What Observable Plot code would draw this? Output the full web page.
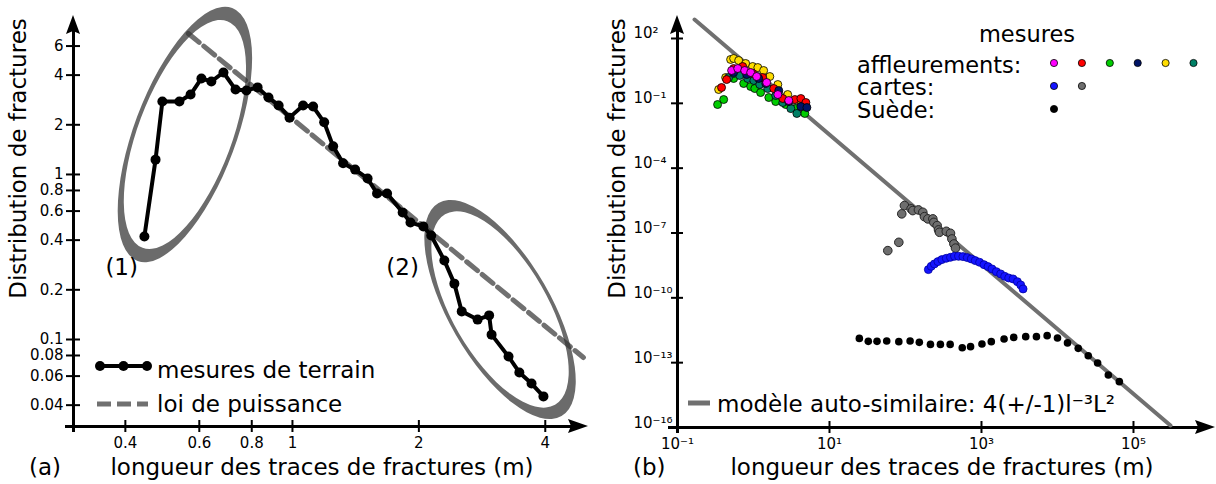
<!DOCTYPE html>
<html><head><meta charset="utf-8">
<script src="https://cdn.jsdelivr.net/npm/d3@7"></script>
<script src="https://cdn.jsdelivr.net/npm/@observablehq/plot@0.6"></script>
<style>
body{margin:0;background:#fff;}
#wrap{display:flex;width:1216px;height:484px;}
#wrap svg{display:block;flex:none;}
</style></head><body><div id="wrap"></div>
<script>
// ---------- Panel (a) data ----------
const terrainL = [0.444,0.472,0.490,0.538,0.572,0.607,0.641,0.685,0.732,0.777,0.826,0.877,0.927,0.984,1.06,1.12,1.19,1.25,1.32,1.41,1.51,1.59,1.68,1.83,1.91,2.05,2.14,2.30,2.43,2.53,2.76,2.94,2.98,3.27,3.47,3.71,3.96];
const terrainN = [0.421,1.23,2.77,2.77,3.05,3.82,3.66,4.15,3.27,3.23,3.37,2.93,2.62,2.21,2.62,2.58,2.07,1.48,1.17,1.07,0.946,0.767,0.767,0.588,0.512,0.484,0.427,0.301,0.218,0.148,0.132,0.140,0.107,0.0788,0.0631,0.0541,0.0452];
const powerLawL = [0.565, 4.93];
const powerLawN = [7.15, 0.0778];
const zonesL = [0.556, 3.13];          // centres of the two highlighted zones
const zonesN = [1.735, 0.151];
const zoneLabels = ["(1)", "(2)"];
const zoneLabelL = [0.392, 1.83];
const zoneLabelN = [0.273, 0.273];
const ticksAx = [0.4, 0.6, 0.8, 1, 2, 4];
const ticksAy = [0.04, 0.06, 0.08, 0.1, 0.2, 0.4, 0.6, 0.8, 1, 2, 4, 6];
const domainAx = [0.301, 5.07];
const domainAy = [0.0297, 9.19];

// ---------- Panel (b) data ----------
const aff1L = [0.515,0.620,0.766,0.918,1.10,1.49,2.09,2.91];
const aff1N = [3.3,4.08,3.3,2.67,1.74,0.918,0.255,0.135];
const aff2L = [0.380,0.443,0.548,0.721,0.975,1.32,1.85,2.43,3.50,4.20,4.89];
const aff2N = [0.539,1.26,4.08,5.06,2.40,1.56,0.484,0.167,0.150,0.167,0.109];
const aff3L = [0.337,0.405,0.548,0.743,0.918,1.04,1.24,1.59,1.96,2.66,3.61,4.73];
const aff3N = [0.088,0.150,1.41,0.826,0.600,0.484,0.316,0.186,0.121,0.088,0.057,0.034];
const aff4L = [0.548,0.813,1.17,1.45,2.15,2.91,4.20,5.04];
const aff4N = [2.67,2.15,1.41,0.826,0.39,0.121,0.071,0.064];
const aff5L = [0.348,0.430,0.500,0.548,0.638,0.789,0.975,1.14,1.36,1.64,2.09,2.82,4.07];
const aff5N = [0.436,1.56,10.7,11.9,9.6,6.96,5.06,4.54,3.3,1.74,0.741,0.255,0.135];
const aff6L = [0.471,0.548,0.658,0.838,1.01,1.21,1.54,1.96,2.43,3.10,3.72];
const aff6N = [1.56,2.40,1.94,1.41,1.14,0.741,0.484,0.23,0.109,0.057,0.034];
const carteGrisL = [58.5,81.7,89.3,96.8,118.6,124.7,147.9,169,177.4,196.8,229,236,261,272,280,344,391,408,434,455];
const carteGrisN = [1.53e-8,3.7e-8,7.7e-7,1.86e-6,1.31e-6,1.09e-6,1.17e-6,9.1e-7,5.7e-7,4.5e-7,4.5e-7,3.1e-7,2.2e-7,1.39e-7,1.08e-7,1.2e-7,9.7e-8,5.3e-8,3.1e-8,2.0e-8];
const carteBleuL = [200,218,240,267,301,344,391,442,499,570,650,733,828,944,1079,1219,1374,1567,1786,2018,2280,2600,2965,3281,3524];
const carteBleuN = [2.02e-9,2.87e-9,3.71e-9,4.74e-9,5.87e-9,6.75e-9,7.5e-9,8.34e-9,8.34e-9,8.07e-9,7.26e-9,6.32e-9,5.27e-9,4.41e-9,3.44e-9,2.78e-9,2.18e-9,1.63e-9,1.28e-9,9.9e-10,8.3e-10,7.5e-10,5.6e-10,3.95e-10,2.58e-10];
const suedeL = [24.7,32.4,42.2,56.6,81.7,115,152,213,288,387,558,718,1014,1346,1982,2655,3819,5284,7311,10000,13550,18750,25410,33730,46670,65160];
const suedeN = [1.33e-12,9.7e-13,9.7e-13,1.01e-12,9.4e-13,1.01e-12,8.7e-13,7.0e-13,7.0e-13,7.0e-13,4.9e-13,5.5e-13,7.3e-13,9.4e-13,1.25e-12,1.48e-12,1.6e-12,1.6e-12,1.78e-12,1.39e-12,8.2e-13,4.6e-13,2.1e-13,9.7e-14,2.7e-14,1.32e-14];
const modelL = [0.1675, 3.07e5];
const modelN = [757, 1.24e-16];
const ticksBx = [0.1, 10, 1000, 100000];
const ticksBy = [1e2, 1e-1, 1e-4, 1e-7, 1e-10, 1e-13, 1e-16];
const domainBx = [0.1, 1.2e6];
const domainBy = [1e-16, 1159];

// ---------- helpers ----------
const rows = (L, N) => L.map((l, i) => ({l, n: N[i]}));
const FONT = "DejaVu Sans";
const SUP = {"-":"⁻","0":"⁰","1":"¹","2":"²","3":"³","4":"⁴","5":"⁵","6":"⁶","7":"⁷","8":"⁸","9":"⁹"};
const supFmt = d => "10" + String(Math.round(Math.log10(d))).split("").map(c => SUP[c]).join("");
const blank = () => "";

function ellipsePath(cx, cy, a, b, rot) {
  const t = rot * Math.PI / 180, ux = Math.cos(t) * a, uy = Math.sin(t) * a;
  return `M${cx+ux},${cy+uy}A${a},${b},${rot},1,0,${cx-ux},${cy-uy}A${a},${b},${rot},1,0,${cx+ux},${cy+uy}Z`;
}
// ring shapes (pixel sizes) for the highlighted zones
const ringShapes = [
  {a: 135, b: 51, ia: 121, ib: 47, rot: -69.5},
  {a: 123, b: 51, ia: 110, ib: 47.5, rot: 60}
];
const zonesMark = (index, scales) => {
  const g = d3.create("svg:g");
  zonesL.forEach((l, i) => {
    const cx = scales.x(l), cy = scales.y(zonesN[i]), s = ringShapes[i];
    g.append("path")
      .attr("d", ellipsePath(cx, cy, s.a, s.b, s.rot) + ellipsePath(cx, cy, s.ia, s.ib, s.rot))
      .attr("fill", "#6b6b6b").attr("fill-rule", "evenodd");
  });
  return g.node();
};
const arrowMark = (xd, yd) => (index, scales) => {
  const g = d3.create("svg:g").attr("fill", "black");
  const x0 = scales.x(xd[0]), x1 = scales.x(xd[1]), y0 = scales.y(yd[0]), y1 = scales.y(yd[1]);
  g.append("path").attr("d", `M${x0},${y1}L${x0-7},${y1+19}L${x0},${y1+16}L${x0+7},${y1+19}Z`);
  g.append("path").attr("d", `M${x1},${y0}L${x1-20},${y0-7}L${x1-17},${y0}L${x1-20},${y0+7}Z`);
  return g.node();
};
const baseStyle = {fontFamily: FONT, fontSize: "15px", color: "black", background: "white", overflow: "visible"};

// ---------- Panel (a) ----------
const terrain = rows(terrainL, terrainN);
const powerLaw = rows(powerLawL, powerLawN);
const zoneText = zoneLabels.map((t, i) => ({t, l: zoneLabelL[i], n: zoneLabelN[i]}));

const svgA = Plot.plot({
  width: 600, height: 484,
  marginLeft: 73, marginRight: 12, marginTop: 15, marginBottom: 58,
  x: {type: "log", domain: domainAx},
  y: {type: "log", domain: domainAy},
  style: baseStyle,
  marks: [
    zonesMark,
    Plot.ruleX([domainAx[0]], {strokeWidth: 3, insetTop: 12, insetBottom: -6}),
    Plot.ruleY([domainAy[0]], {strokeWidth: 3, insetLeft: -8, insetRight: 12}),
    Plot.axisY({ticks: ticksAy, tickSize: 14, dx: 7, tickFormat: blank, strokeWidth: 2, label: null}),
    Plot.text(ticksAy, {y: d => d, frameAnchor: "left", dx: -10, textAnchor: "end", text: d => String(d), fontSize: 15}),
    Plot.axisX({ticks: ticksAx, tickSize: 12, dy: -6, tickFormat: blank, strokeWidth: 2, label: null}),
    Plot.text(ticksAx, {x: d => d, frameAnchor: "bottom", dy: 21, text: d => String(d), fontSize: 15}),
    arrowMark(domainAx, domainAy),
    Plot.line(powerLaw, {x: "l", y: "n", stroke: "#333", strokeOpacity: 0.7, strokeWidth: 5, strokeDasharray: "14,6"}),
    Plot.line(terrain, {x: "l", y: "n", stroke: "black", strokeWidth: 4}),
    Plot.dot(terrain, {x: "l", y: "n", r: 5, fill: "black"}),
    Plot.text(zoneText, {x: "l", y: "n", text: "t", fontSize: 23})
  ]
});

// ---------- Panel (b) ----------
const outcrops = [
  {L: aff5L, N: aff5N, fill: "#ffdd00"},
  {L: aff3L, N: aff3N, fill: "#00cc00"},
  {L: aff6L, N: aff6N, fill: "#008066"},
  {L: aff2L, N: aff2N, fill: "#ff0000"},
  {L: aff4L, N: aff4N, fill: "#001466"},
  {L: aff1L, N: aff1N, fill: "#ff00ff"}
];
const svgB = Plot.plot({
  width: 616, height: 484,
  marginLeft: 77, marginRight: 1, marginTop: 15, marginBottom: 57,
  x: {type: "log", domain: domainBx},
  y: {type: "log", domain: domainBy},
  style: baseStyle,
  marks: [
    Plot.ruleX([domainBx[0]], {strokeWidth: 3, insetTop: 12, insetBottom: -6}),
    Plot.ruleY([domainBy[0]], {strokeWidth: 3, insetLeft: -9, insetRight: 12}),
    Plot.axisY({ticks: ticksBy, tickSize: 12, dx: 6, tickFormat: blank, strokeWidth: 2, label: null}),
    Plot.text(ticksBy, {y: d => d, frameAnchor: "left", dx: -44, textAnchor: "start", lineAnchor: "bottom", text: supFmt, fontSize: 15}),
    Plot.axisX({ticks: ticksBx, tickSize: 12, dy: -6, tickFormat: blank, strokeWidth: 2, label: null}),
    Plot.text(ticksBx, {x: d => d, frameAnchor: "bottom", dy: 21, text: supFmt, fontSize: 15}),
    arrowMark(domainBx, domainBy),
    Plot.line(rows(modelL, modelN), {x: "l", y: "n", stroke: "#707070", strokeWidth: 4}),
    Plot.dot(rows(suedeL, suedeN), {x: "l", y: "n", r: 3.8, fill: "black"}),
    Plot.dot(rows(carteGrisL, carteGrisN), {x: "l", y: "n", r: 4.3, fill: "#6e6e6e", stroke: "#262626", strokeWidth: 1}),
    Plot.dot(rows(carteBleuL, carteBleuN), {x: "l", y: "n", r: 4, fill: "#1414ff", stroke: "#0000a0", strokeWidth: 0.8}),
    ...outcrops.map(s => Plot.dot(rows(s.L, s.N), {x: "l", y: "n", r: 4, fill: s.fill, stroke: "black", strokeWidth: 0.8}))
  ]
});

// ---------- labels & legends ----------
function label(g, txt, x, y, opts = {}) {
  const t = g.append("text").attr("font-family", FONT)
    .attr("font-size", opts.size || 23).attr("fill", "black")
    .attr("text-anchor", opts.anchor || "start").text(txt);
  if (opts.rotate) t.attr("transform", `translate(${x},${y}) rotate(${opts.rotate})`);
  else t.attr("x", x).attr("y", y);
  return t;
}
{
  const g = d3.select(svgA).append("g");
  label(g, "Distribution de fractures", 25.5, 158.5, {anchor: "middle", rotate: -90});
  label(g, "longueur des traces de fractures (m)", 322, 475, {anchor: "middle"});
  label(g, "(a)", 29, 475);
  g.append("line").attr("x1", 100).attr("x2", 147).attr("y1", 366).attr("y2", 366).attr("stroke", "black").attr("stroke-width", 4);
  [100, 123.5, 147].forEach(x => g.append("circle").attr("cx", x).attr("cy", 366).attr("r", 5).attr("fill", "black"));
  label(g, "mesures de terrain", 157, 378);
  g.append("line").attr("x1", 97).attr("x2", 148).attr("y1", 404).attr("y2", 404)
    .attr("stroke", "#333").attr("stroke-opacity", 0.7).attr("stroke-width", 5).attr("stroke-dasharray", "14,6");
  label(g, "loi de puissance", 157, 412);
}
{
  const g = d3.select(svgB).append("g");
  label(g, "Distribution de fractures", 25, 158.5, {anchor: "middle", rotate: -90});
  label(g, "longueur des traces de fractures (m)", 342, 475, {anchor: "middle"});
  label(g, "(b)", 33, 475);
  label(g, "mesures", 427, 42, {anchor: "middle", size: 22.5});
  label(g, "affleurements:", 257, 72.5, {size: 22.5});
  label(g, "cartes:", 257, 95, {size: 22.5});
  label(g, "Suède:", 257, 117.5, {size: 22.5});
  const legendRows = [
    {y: 63, fills: ["#ff00ff", "#ff0000", "#00cc00", "#001466", "#ffdd00", "#008066"]},
    {y: 86, fills: ["#1414ff", "#6e6e6e"]},
    {y: 109, fills: ["black"]}
  ];
  legendRows.forEach(r => r.fills.forEach((f, k) =>
    g.append("circle").attr("cx", 454 + 27.9 * k).attr("cy", r.y).attr("r", 3.6)
      .attr("fill", f).attr("stroke", "black").attr("stroke-width", 0.8)));
  g.append("line").attr("x1", 88).attr("x2", 110).attr("y1", 403).attr("y2", 403).attr("stroke", "#707070").attr("stroke-width", 5);
  label(g, "modèle auto-similaire: 4(+/-1)l⁻³L²", 117, 411.5);
}
document.getElementById("wrap").append(svgA, svgB);
</script>
</body></html>
